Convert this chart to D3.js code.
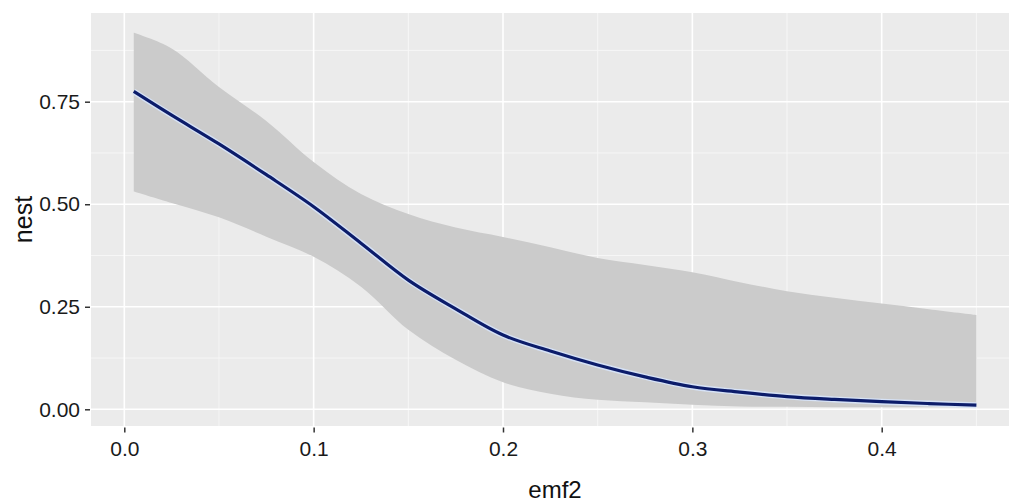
<!DOCTYPE html>
<html>
<head>
<meta charset="utf-8">
<script src="https://cdn.jsdelivr.net/npm/d3@7"></script>
<style>
  html, body { margin: 0; padding: 0; background: #ffffff; }
  svg { display: block; }
  text { font-family: "Liberation Sans", Arial, sans-serif; }
</style>
</head>
<body>
<svg id="chart" width="1009" height="504"></svg>
<script>
// ---- data ----
const emf2 = [0.005, 0.025, 0.05, 0.075, 0.1, 0.125, 0.15, 0.175, 0.2, 0.225, 0.25, 0.275, 0.3, 0.325, 0.35, 0.375, 0.4, 0.425, 0.45];
const nestFit = [0.775, 0.717, 0.647, 0.572, 0.494, 0.405, 0.315, 0.245, 0.181, 0.142, 0.108, 0.079, 0.055, 0.042, 0.031, 0.024, 0.0185, 0.014, 0.010];
const nestUpper = [0.918, 0.880, 0.786, 0.703, 0.603, 0.525, 0.476, 0.443, 0.420, 0.395, 0.369, 0.352, 0.334, 0.310, 0.288, 0.272, 0.258, 0.244, 0.230];
const nestLower = [0.531, 0.503, 0.468, 0.421, 0.372, 0.299, 0.194, 0.121, 0.066, 0.038, 0.023, 0.017, 0.011, 0.007, 0.006, 0.005, 0.005, 0.005, 0.005];
const xTicks = [0.0, 0.1, 0.2, 0.3, 0.4];
const xMinor = [0.05, 0.15, 0.25, 0.35, 0.45];
const yTicks = [0.00, 0.25, 0.50, 0.75];
const yMinor = [0.125, 0.375, 0.625, 0.875];
const xTitle = "emf2";
const yTitle = "nest";

const rows = emf2.map((x, i) => ({ x, fit: nestFit[i], lo: nestLower[i], hi: nestUpper[i] }));

// ---- layout ----
const panel = { left: 91, right: 1009, top: 13, bottom: 426 };
const svg = d3.select("#chart");

const x = d3.scaleLinear().domain([0, 0.4]).range([124.3, 881.7]);
const y = d3.scaleLinear().domain([0, 0.75]).range([409.3, 101.7]);

// panel background
svg.append("rect")
  .attr("x", panel.left).attr("y", panel.top)
  .attr("width", panel.right - panel.left).attr("height", panel.bottom - panel.top)
  .attr("fill", "#EBEBEB");

const grid = svg.append("g");
// minor grid
grid.selectAll(".xm").data(xMinor).join("line")
  .attr("x1", d => x(d)).attr("x2", d => x(d))
  .attr("y1", panel.top).attr("y2", panel.bottom)
  .attr("stroke", "#F7F7F7").attr("stroke-width", 0.9);
grid.selectAll(".ym").data(yMinor).join("line")
  .attr("y1", d => y(d)).attr("y2", d => y(d))
  .attr("x1", panel.left).attr("x2", panel.right)
  .attr("stroke", "#F7F7F7").attr("stroke-width", 0.9);
// major grid
grid.selectAll(".xM").data(xTicks).join("line")
  .attr("x1", d => x(d)).attr("x2", d => x(d))
  .attr("y1", panel.top).attr("y2", panel.bottom)
  .attr("stroke", "#FFFFFF").attr("stroke-width", 1.6);
grid.selectAll(".yM").data(yTicks).join("line")
  .attr("y1", d => y(d)).attr("y2", d => y(d))
  .attr("x1", panel.left).attr("x2", panel.right)
  .attr("stroke", "#FFFFFF").attr("stroke-width", 1.6);

// ribbon
const area = d3.area()
  .x(d => x(d.x)).y0(d => y(d.lo)).y1(d => y(d.hi))
  .curve(d3.curveCatmullRom.alpha(0.5));
svg.append("path").datum(rows)
  .attr("d", area)
  .attr("fill", "#CBCBCB");

// fitted line
const line = d3.line().x(d => x(d.x)).y(d => y(d.fit)).curve(d3.curveCatmullRom.alpha(0.5));
svg.append("path").datum(rows)
  .attr("d", line).attr("fill", "none")
  .attr("stroke", "#D6E2F6").attr("stroke-width", 6).attr("stroke-linecap", "butt");
svg.append("path").datum(rows)
  .attr("d", line).attr("fill", "none")
  .attr("stroke", "#0C1C6A").attr("stroke-width", 3.2).attr("stroke-linecap", "butt");

// axes
const xAxis = d3.axisBottom(x).tickValues(xTicks).tickFormat(d3.format(".1f")).tickSize(5).tickPadding(4);
const gx = svg.append("g").attr("transform", `translate(0,${panel.bottom + 1.5})`).call(xAxis);
gx.select(".domain").remove();
gx.selectAll(".tick line").attr("stroke", "#333").attr("stroke-width", 1.5);
gx.selectAll(".tick text").attr("fill", "#1a1a1a").attr("font-size", 21)
  .attr("font-family", "Liberation Sans, Arial, sans-serif")
  .attr("dy", "0.95em");

const yAxis = d3.axisLeft(y).tickValues(yTicks).tickFormat(d3.format(".2f")).tickSize(5).tickPadding(5);
const gy = svg.append("g").attr("transform", `translate(${panel.left - 1},0)`).call(yAxis);
gy.select(".domain").remove();
gy.selectAll(".tick line").attr("stroke", "#333").attr("stroke-width", 1.5);
gy.selectAll(".tick text").attr("fill", "#1a1a1a").attr("font-size", 21)
  .attr("font-family", "Liberation Sans, Arial, sans-serif");

// titles
svg.append("text")
  .attr("x", 555).attr("y", 498)
  .attr("text-anchor", "middle")
  .attr("font-size", 24).attr("fill", "#111")
  .text(xTitle);
svg.append("text")
  .attr("transform", `translate(32,${(panel.top + panel.bottom) / 2}) rotate(-90)`)
  .attr("text-anchor", "middle")
  .attr("font-size", 25).attr("fill", "#111")
  .text(yTitle);
</script>
</body>
</html>
